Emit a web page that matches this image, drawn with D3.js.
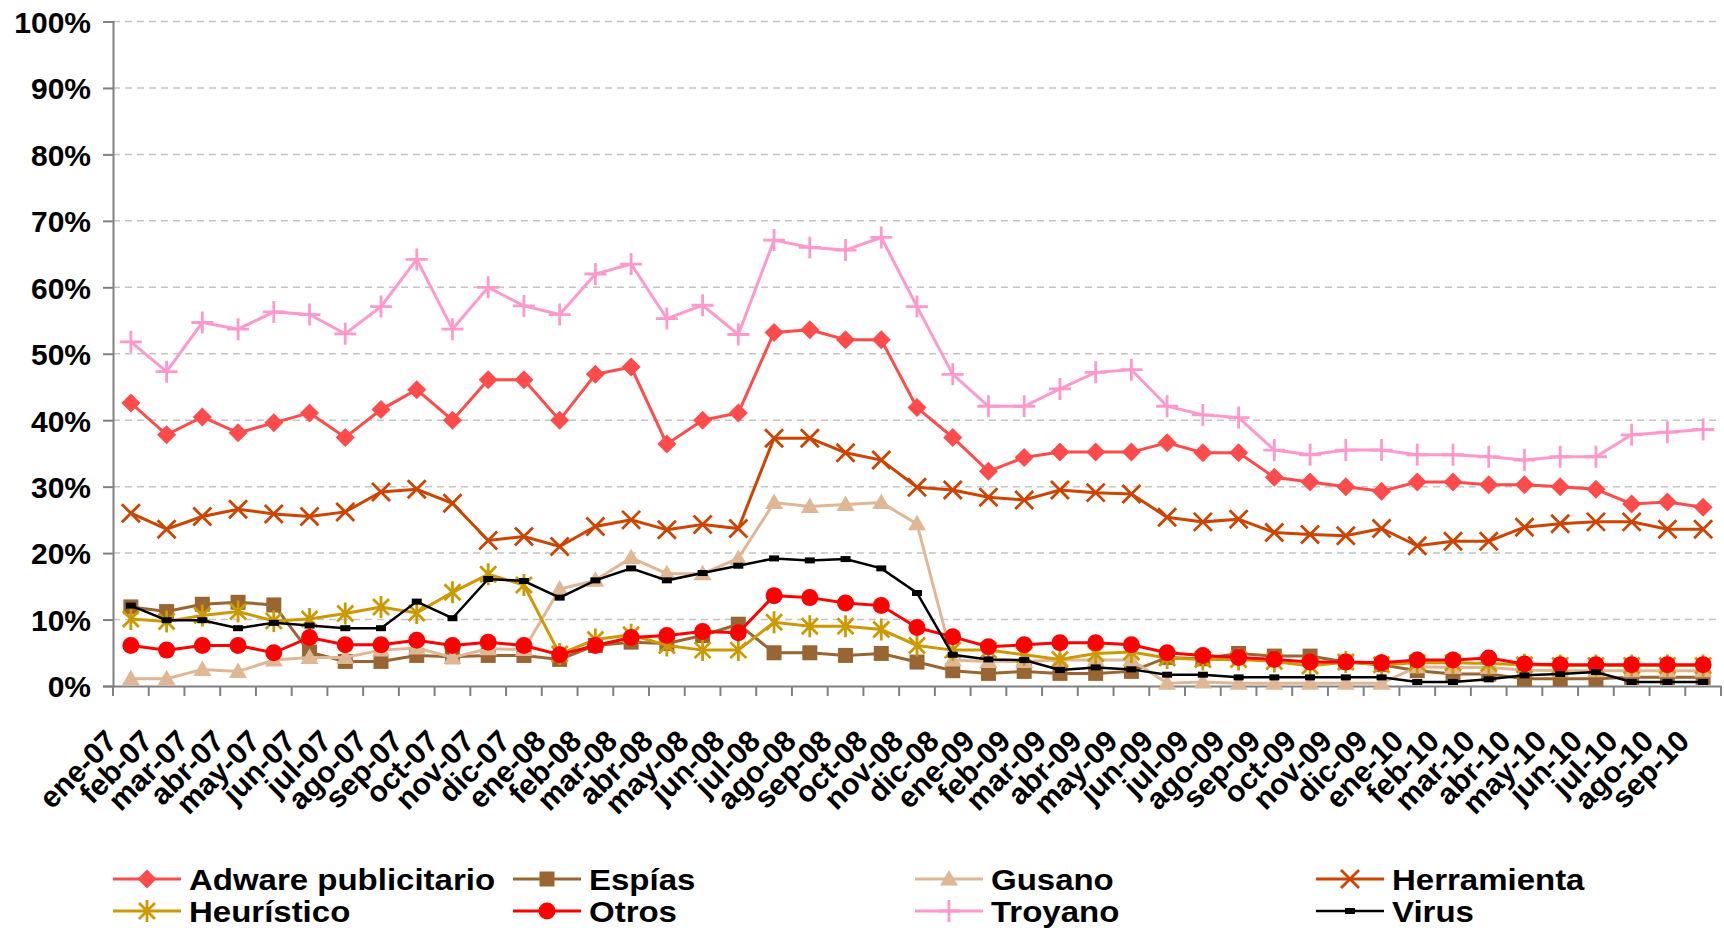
<!DOCTYPE html>
<html>
<head>
<meta charset="utf-8">
<script src="https://cdn.jsdelivr.net/npm/d3@7"></script>
<style>
  body { margin: 0; background: #fff; }
  text { font-family: "Liberation Sans", Arial, sans-serif; font-weight: bold; fill: #000; }
</style>
</head>
<body>
<svg id="chart" width="1724" height="930"></svg>
<script>
// Meses (ene-07 .. sep-10)
var months = ["ene-07","feb-07","mar-07","abr-07","may-07","jun-07","jul-07","ago-07","sep-07","oct-07","nov-07","dic-07",
  "ene-08","feb-08","mar-08","abr-08","may-08","jun-08","jul-08","ago-08","sep-08","oct-08","nov-08","dic-08",
  "ene-09","feb-09","mar-09","abr-09","may-09","jun-09","jul-09","ago-09","sep-09","oct-09","nov-09","dic-09",
  "ene-10","feb-10","mar-10","abr-10","may-10","jun-10","jul-10","ago-10","sep-10"];

// valores en %
var adware = [42.6,37.8,40.5,38.1,39.6,41.1,37.4,41.6,44.6,40.0,46.1,46.1,
  40.0,46.9,48.0,36.4,40.0,41.1,53.2,53.6,52.1,52.1,41.9,37.4,
  32.3,34.4,35.2,35.2,35.2,36.6,35.1,35.1,31.4,30.7,30.0,29.3,
  30.7,30.7,30.3,30.3,30.0,29.6,27.4,27.7,26.9];
var espias = [11.9,11.2,12.3,12.6,12.2,5.1,3.7,3.7,4.6,4.4,4.6,4.6,
  4.0,6.1,6.6,6.4,7.6,9.3,5.0,5.0,4.6,4.9,3.6,2.3,
  1.9,2.2,1.9,1.9,2.2,4.3,4.1,4.9,4.5,4.5,3.6,3.2,
  2.3,1.8,1.8,1.1,1.1,1.1,1.3,1.3,1.3];
var gusano = [1.1,1.1,2.5,2.2,3.9,4.3,4.3,5.4,5.7,4.3,5.6,5.5,
  14.6,15.9,19.3,16.9,16.9,19.2,27.6,27.0,27.3,27.6,24.4,3.9,
  3.7,3.7,3.9,3.9,3.9,0.4,0.6,0.4,0.4,0.4,0.4,0.4,
  2.9,2.8,2.8,2.4,2.3,2.3,2.3,2.3,2.3];
var herramienta = [26.0,23.6,25.5,26.6,25.9,25.5,26.2,29.2,29.6,27.5,21.9,22.5,
  21.0,24.0,25.0,23.5,24.3,23.7,37.3,37.3,35.1,34.0,29.9,29.5,
  28.4,28.0,29.5,29.1,28.9,25.4,24.7,25.1,23.1,22.8,22.6,23.7,
  21.1,21.8,21.8,23.9,24.4,24.7,24.7,23.6,23.6];
var heuristico = [10.1,9.7,10.6,11.2,9.8,10.1,10.9,11.9,11.0,14.1,16.8,15.2,
  4.8,7.0,7.7,6.1,5.4,5.4,9.6,9.0,9.0,8.5,6.1,5.4,
  5.4,4.7,4.0,4.9,5.1,4.2,4.0,4.0,3.7,3.0,3.6,3.2,
  3.5,3.5,3.4,3.2,3.1,3.1,3.1,3.1,3.1];
var otros = [6.1,5.4,6.1,6.1,5.0,7.3,6.2,6.2,6.9,6.1,6.6,6.1,
  4.7,6.1,7.3,7.6,8.2,8.0,13.6,13.3,12.5,12.1,8.8,7.4,
  5.9,6.2,6.5,6.5,6.2,5.0,4.6,4.3,4.0,3.6,3.6,3.5,
  3.9,3.9,4.2,3.3,3.2,3.2,3.2,3.2,3.2];
var troyano = [51.8,47.3,54.7,53.7,56.3,55.9,53.0,57.1,64.2,53.7,60.0,57.2,
  55.9,62.0,63.5,55.3,57.3,52.9,67.1,66.0,65.6,67.5,57.1,46.9,
  42.1,42.1,44.7,47.2,47.6,42.1,40.8,40.4,35.5,34.8,35.5,35.5,
  34.8,34.8,34.5,34.0,34.5,34.5,37.8,38.2,38.6];
var virus = [12.1,9.9,9.9,8.7,9.5,9.1,8.7,8.7,12.7,10.2,16.1,15.8,
  13.3,15.9,17.7,15.9,17.0,18.1,19.2,18.9,19.1,17.7,14.0,4.7,
  4.0,3.9,2.4,2.8,2.5,1.7,1.7,1.3,1.3,1.3,1.3,1.3,
  0.6,0.6,1.0,1.6,1.8,2.1,0.6,0.6,0.6];

var yTicks = [0,10,20,30,40,50,60,70,80,90,100];

var series = [
  {name: "Adware publicitario", values: adware, color: "#ff4b4b", marker: "diamond"},
  {name: "Espías", values: espias, color: "#996633", marker: "square"},
  {name: "Gusano", values: gusano, color: "#dfb795", marker: "triangle"},
  {name: "Herramienta", values: herramienta, color: "#cc4400", marker: "cross"},
  {name: "Heurístico", values: heuristico, color: "#cc9900", marker: "star"},
  {name: "Otros", values: otros, color: "#ff0000", marker: "circle"},
  {name: "Troyano", values: troyano, color: "#ff99cc", marker: "plus"},
  {name: "Virus", values: virus, color: "#000000", marker: "dash"}
];

// formas de los marcadores, centradas en 0,0
function markerPath(type) {
  switch (type) {
    case "diamond": return "M0,-9.5L9.5,0L0,9.5L-9.5,0Z";
    case "square": return "M-7.5,-7.5h15v15h-15Z";
    case "triangle": return "M0,-9L9,6.5L-9,6.5Z";
    case "cross": return "M-9,-9L9,9M-9,9L9,-9";
    case "star": return "M-8,-8L8,8M-8,8L8,-8M0,-11V11";
    case "circle": return "M8.5,0A8.5,8.5 0 1,1 -8.5,0A8.5,8.5 0 1,1 8.5,0Z";
    case "plus": return "M-11,0H11M0,-11V11";
    case "dash": return "M-5,-3h10v6h-10Z";
  }
}
function isStroked(type) {
  return type == "cross" || type == "star" || type == "plus";
}

var svg = d3.select("#chart");
// ojo: "top" es una global del navegador, por eso plot*
var plotLeft = 113, plotRight = 1721, plotTop = 21.5, plotBottom = 686;

var x = d3.scaleBand().domain(months).range([plotLeft, plotRight]);
var y = d3.scaleLinear().domain([0, 100]).range([plotBottom, plotTop]);

// lineas de cuadricula discontinuas
svg.append("g")
  .selectAll("line")
  .data(yTicks.filter(function(d) { return d > 0; }))
  .enter().append("line")
    .attr("x1", plotLeft).attr("x2", plotRight)
    .attr("y1", function(d) { return y(d); })
    .attr("y2", function(d) { return y(d); })
    .attr("stroke", "#c4c4c4")
    .attr("stroke-width", 1.5)
    .attr("stroke-dasharray", "7,5");

// eje Y
var yAxis = svg.append("g")
  .attr("transform", "translate(" + plotLeft + ",0)")
  .call(d3.axisLeft(y).tickValues(yTicks).tickSize(10).tickPadding(12)
    .tickFormat(function(d) { return d + "%"; }));
yAxis.select(".domain").attr("stroke", "#808080").attr("stroke-width", 2);
yAxis.selectAll(".tick line").attr("stroke", "#808080").attr("stroke-width", 2);
yAxis.selectAll(".tick text")
  .style("font-size", "30px")
  .style("font-family", "'Liberation Sans', Arial, sans-serif")
  .style("font-weight", "bold")
  .attr("dy", "0.36em");

// eje X, marcas entre categorias
var xAxis = svg.append("g")
  .attr("transform", "translate(0," + plotBottom + ")")
  .call(d3.axisBottom(x).tickSize(0).tickSizeOuter(0));
xAxis.select(".domain").attr("stroke", "#808080").attr("stroke-width", 2);
xAxis.selectAll(".tick text")
  .attr("y", null).attr("dy", null)
  .attr("text-anchor", "end")
  .attr("transform", "translate(-12,57) rotate(-45)")
  .style("font-size", "30px")
  .style("font-family", "'Liberation Sans', Arial, sans-serif")
  .style("font-weight", "bold");

var edges = months.map(function(m) { return x(m); }).concat([plotRight]);
xAxis.append("g")
  .selectAll("line")
  .data(edges)
  .enter().append("line")
    .attr("x1", function(d) { return d; })
    .attr("x2", function(d) { return d; })
    .attr("y1", 0).attr("y2", 10)
    .attr("stroke", "#808080")
    .attr("stroke-width", 2);

// series
var line = d3.line()
  .x(function(d, i) { return x(months[i]) + x.bandwidth() / 2; })
  .y(function(d) { return y(d); });

series.forEach(function(s) {
  var g = svg.append("g");
  g.append("path")
    .attr("d", line(s.values))
    .attr("fill", "none")
    .attr("stroke", s.color)
    .attr("stroke-width", s.marker == "dash" ? 2.5 : 3);

  g.selectAll("path.m")
    .data(s.values)
    .enter().append("path")
      .attr("class", "m")
      .attr("d", markerPath(s.marker))
      .attr("transform", function(d, i) {
        return "translate(" + (x(months[i]) + x.bandwidth() / 2) + "," + y(d) + ")";
      })
      .attr("fill", isStroked(s.marker) ? "none" : s.color)
      .attr("stroke", isStroked(s.marker) ? s.color : "none")
      .attr("stroke-width", 2.8);
});

// leyenda 4 x 2
var legX = [113, 513, 915, 1316];
var legY = [879, 911];
var legend = svg.append("g")
  .selectAll("g")
  .data(series)
  .enter().append("g")
    .attr("transform", function(d, i) {
      return "translate(" + legX[i % 4] + "," + legY[Math.floor(i / 4)] + ")";
    });

legend.append("line")
  .attr("x1", 0).attr("x2", 68)
  .attr("stroke", function(d) { return d.color; })
  .attr("stroke-width", function(d) { return d.marker == "dash" ? 2.5 : 3; });

legend.append("path")
  .attr("d", function(d) { return markerPath(d.marker); })
  .attr("transform", "translate(34,0)")
  .attr("fill", function(d) { return isStroked(d.marker) ? "none" : d.color; })
  .attr("stroke", function(d) { return isStroked(d.marker) ? d.color : "none"; })
  .attr("stroke-width", 2.8);

// texto un poco estirado en horizontal para que no se pisen las filas
legend.append("text")
  .attr("transform", "translate(76,0) scale(1.1,1)")
  .attr("dy", "0.36em")
  .style("font-size", "30px")
  .text(function(d) { return d.name; });
</script>
</body>
</html>
